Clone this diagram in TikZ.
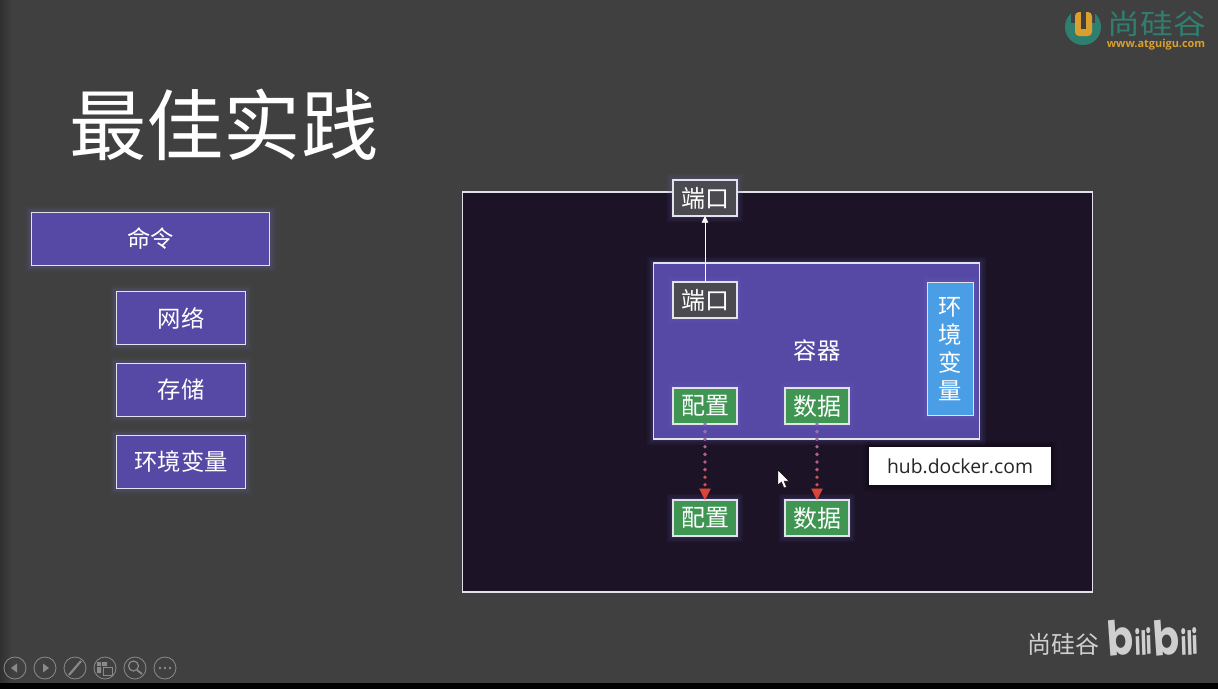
\documentclass[tikz,border=0pt]{standalone}
\usepackage{fontspec}
\setmainfont{Noto Sans CJK SC}
\newfontfamily\latinf{Open Sans}
\newfontfamily\bilif{Poppins}
\usetikzlibrary{arrows.meta,decorations.markings}
\definecolor{bgc}{HTML}{404040}
\definecolor{darkbox}{HTML}{1C1426}
\definecolor{purp}{HTML}{5549A5}
\definecolor{grn}{HTML}{3F9552}
\definecolor{gry}{HTML}{4A4A50}
\definecolor{blu}{HTML}{4A9EE6}
\definecolor{edge}{HTML}{E2E2EA}
\definecolor{teal}{HTML}{2F7F70}
\definecolor{gold}{HTML}{D9A030}
\definecolor{tool}{HTML}{8A8A8A}
\definecolor{arrred}{HTML}{DD4438}
\definecolor{dotstart}{HTML}{8E78C8}
\definecolor{bili}{HTML}{CFCFCF}
\definecolor{glowc}{HTML}{7468C8}
\tikzset{
  x=0.75pt,y=-0.75pt,
  glow/.style={
     preaction={draw=#1,draw opacity=.05,line width=9pt},
     preaction={draw=#1,draw opacity=.06,line width=7pt},
     preaction={draw=#1,draw opacity=.07,line width=5pt},
     preaction={draw=#1,draw opacity=.08,line width=3pt}},
  box/.style={draw=edge,line width=0.85pt,text=white,inner sep=0pt,outer sep=0pt,align=center,glow=glowc},
  side/.style={box,fill=purp,font=\fontsize{17.5}{20}\selectfont},
  tag/.style={box,font=\fontsize{18}{21}\selectfont},
  dotconn/.style={decorate,decoration={markings,
     mark=between positions 0 and 0.9 step 5.7pt with {
       \pgfmathsetmacro{\mix}{min(100,\pgfkeysvalueof{/pgf/decoration/mark info/sequence number}*9)}
       \fill[arrred!\mix!dotstart] (0,0) circle (1.45pt);},
     mark=at position 1 with {\arrow[arrred]{Triangle[length=8.5pt,width=8.5pt]}}}},
  toolbtn/.style={draw=tool,line width=0.6pt,circle,minimum size=16.5pt,inner sep=0pt},
  logotext/.style={font=\fontsize{21}{23}\selectfont,text=teal,inner sep=0pt,xscale=1.17,text height=16pt,text depth=0pt},
  bilib/.style={text=bili,inner sep=0pt,anchor=base west,font=\bilif\bfseries\fontsize{36}{40}\selectfont,xscale=.8,rotate=5},
  bilii/.style={text=bili,inner sep=0pt,anchor=base west,font=\bilif\bfseries\fontsize{25}{30}\selectfont,xscale=.6,rotate=3},
}
\begin{document}
\begin{tikzpicture}
\useasboundingbox (0,0) rectangle (1218,689);
\fill[bgc] (0,0) rectangle (1218,689);
\shade[left color=black!25!bgc,right color=bgc] (0,0) rectangle (12,683);
\fill[black] (0,683) rectangle (1218,689);

% logo
\fill[teal] (1083,27) circle (18);
\fill[bgc] (1071,8) rectangle (1095,23);
\fill[gold,rounded corners=3pt] (1075,12) rectangle (1092,36);
\fill[bgc] (1081,11) rectangle (1085.5,29);
\node[logotext] (logo) at (1157,24) {尚硅谷};
\node[font=\latinf\bfseries\fontsize{8.2}{9}\selectfont,text=gold,inner sep=0pt,text height=6pt,text depth=0pt] (logourl) at (1156,43) {www.atguigu.com};

% title
\node[text=white,inner sep=0pt,font=\fontsize{58}{60}\selectfont] (title) at (224,125) {最佳实践};

% left list
\node[side,minimum width=179pt,minimum height=40pt] (cmd) at (150.5,239) {命令};
\node[side,minimum width=97pt,minimum height=40pt] (net) at (181,318) {网络};
\node[side,minimum width=97pt,minimum height=40pt] (sto) at (181,390) {存储};
\node[side,minimum width=97pt,minimum height=40pt] (env) at (181,462) {环境变量};

% main frame
\node[draw=edge,line width=0.9pt,fill=darkbox,minimum width=473pt,minimum height=300pt,inner sep=0pt,outer sep=0pt] (host) at (777.5,392) {};
\node[box,fill=purp,minimum width=245pt,minimum height=132pt] (cont) at (816.5,351) {};
\node[text=white,inner sep=0pt,font=\fontsize{17.5}{20}\selectfont] (contlabel) at (817,351) {容器};

\node[tag,fill=gry,minimum width=48pt,minimum height=27pt] (porttop) at (705,198) {端口};
\node[tag,fill=gry,minimum width=48pt,minimum height=27pt] (portin) at (705,300) {端口};
\node[tag,fill=blu,minimum width=35pt,minimum height=100pt,font=\fontsize{17.5}{21}\selectfont] (envv) at (950.5,349) {环\\境\\变\\量};
\node[tag,fill=grn,minimum width=48pt,minimum height=27pt] (cfg) at (705,406) {配置};
\node[tag,fill=grn,minimum width=48pt,minimum height=27pt] (dat) at (817,406) {数据};
\node[tag,fill=grn,minimum width=48pt,minimum height=27pt] (cfgo) at (705,518) {配置};
\node[tag,fill=grn,minimum width=48pt,minimum height=27pt] (dato) at (817,518) {数据};

\draw[white,line width=0.6pt,-{Triangle[length=5pt,width=5pt]}] (portin.north) -- (porttop.south);
\path[dotconn] (cfg.south) -- (cfgo.north);
\path[dotconn] (dat.south) -- (dato.north);

% hub box
\node[fill=white,text=black!85,inner sep=0pt,minimum width=136pt,minimum height=29pt,font=\latinf\fontsize{14.5}{17}\selectfont,glow=black] (hub) at (960,466) {hub.docker.com};

% cursor
\fill[white,draw=black,line width=0.3pt] (778,470) -- (778,485) -- (781.5,482) -- (784,488) -- (786.5,487) -- (784,481) -- (789,481) -- cycle;

% bottom right
\node[text=bili,inner sep=0pt,font=\fontsize{18}{20}\selectfont] (brand) at (1063.5,644) {尚硅谷};
\node[bilib] (bl) at (1108,657) {b};
\node[bilii] (il) at (1135,656) {ili};
\node[bilib] (br) at (1154,657) {b};
\node[bilii] (ir) at (1181,656) {ili};

% toolbar
\node[toolbtn] (t1) at (15,668) {};
\node[toolbtn] (t2) at (45,668) {};
\node[toolbtn] (t3) at (75,668) {};
\node[toolbtn] (t4) at (105,668) {};
\node[toolbtn] (t5) at (135,668) {};
\node[toolbtn] (t6) at (165,668) {};
\fill[tool] (11,668) -- (17,663.5) -- (17,672.5) -- cycle;
\fill[tool] (49,668) -- (43,663.5) -- (43,672.5) -- cycle;
\draw[tool,line width=1.6pt] (69,675) -- (81,661);
\fill[tool] (97,662) rectangle (101,666) (102,662) rectangle (107,666) (97,667) rectangle (101,673);
\draw[tool,fill=bgc,line width=.7pt] (103,667) rectangle (112,675);
\draw[tool,line width=.9pt] (133.5,666) circle (5);
\draw[tool,line width=1.3pt] (137,670) -- (142,674);
\fill[tool] (160,668) circle (1.3) (165,668) circle (1.3) (170,668) circle (1.3);
\end{tikzpicture}
\end{document}
